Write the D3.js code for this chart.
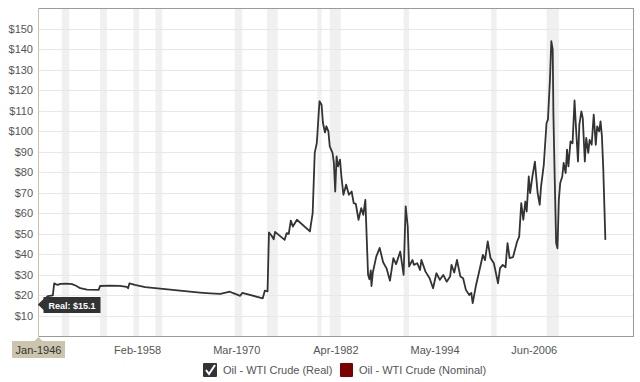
<!DOCTYPE html>
<html><head><meta charset="utf-8">
<script src="https://cdn.jsdelivr.net/npm/d3@7"></script>
<style>
html,body{margin:0;padding:0;background:#fff;}
svg{display:block;font-family:Arial,"Liberation Sans",sans-serif;}
</style></head>
<body><svg id="c" width="640" height="382"></svg>
<script>
// ---- data ----
const dates = ["1946-01","1946-07","1947-03","1947-10","1947-12","1948-05","1948-09","1949-06","1950-02","1950-08","1951-02","1951-12","1953-05","1953-07","1954-10","1955-12","1956-10","1956-12","1957-02","1957-10","1959-01","1960-11","1963-04","1965-09","1966-12","1968-03","1969-05","1969-09","1970-08","1970-11","1973-05","1973-08","1973-12","1974-02","1974-06","1974-09","1974-11","1976-01","1976-04","1976-07","1976-10","1977-01","1977-07","1979-02","1979-03","1979-06","1979-09","1979-12","1980-01","1980-03","1980-04","1980-07","1980-09","1980-12","1981-02","1981-05","1981-07","1981-11","1982-01","1982-03","1982-05","1982-07","1982-10","1982-12","1983-03","1983-07","1983-11","1984-03","1984-06","1984-09","1985-01","1985-05","1985-08","1985-11","1986-03","1986-05","1986-07","1986-08","1986-10","1987-03","1987-08","1988-01","1988-06","1988-11","1989-04","1989-08","1990-02","1990-07","1990-10","1991-01","1991-03","1991-08","1991-10","1992-03","1992-07","1992-09","1993-03","1993-09","1994-02","1994-07","1994-12","1995-05","1995-10","1996-03","1996-05","1996-09","1997-01","1997-06","1997-10","1998-02","1998-07","1998-10","1998-12","1999-05","1999-10","2000-03","2000-06","2000-10","2001-02","2001-07","2001-11","2002-01","2002-04","2002-08","2002-12","2003-03","2003-06","2003-11","2004-05","2004-08","2004-11","2005-02","2005-05","2005-07","2005-10","2005-12","2006-03","2006-07","2006-11","2007-02","2007-04","2007-08","2007-12","2008-02","2008-05","2008-07","2008-09","2008-10","2008-12","2009-02","2009-04","2009-06","2009-08","2009-11","2010-01","2010-04","2010-06","2010-08","2010-11","2011-02","2011-05","2011-07","2011-10","2011-12","2012-03","2012-05","2012-08","2012-10","2013-01","2013-03","2013-06","2013-09","2013-12","2014-02","2014-05","2014-07","2014-09","2014-11","2015-02"];
const realPrice = [15.1,17,19.5,19.8,25.7,24.9,25.4,25.5,25.3,24.5,23.3,22.6,22.5,24.4,24.6,24.5,24.0,23.3,25.7,24.9,23.8,23.1,22.1,21.2,20.8,20.5,21.6,21.0,19.6,21.0,18.4,22.1,21.8,50.5,48.9,47.2,50.8,46.9,50.2,49.8,56.3,53.4,56.7,51.0,53.4,59.9,89.3,94.1,99.0,109.6,114.5,112.8,103.9,99.3,102.3,99.8,92.5,89.3,84.4,70.5,87.6,82.7,86.0,77.8,68.9,73.8,68.9,70.5,64.8,64.5,56.7,62.4,59.1,66.4,30.0,27.7,32.0,24.4,31.0,38.7,43.0,36.0,33.0,27.0,38.0,35.0,41.2,29.8,63.2,53.4,33.9,37.1,34.7,35.5,32.2,37.1,31.4,28.2,23.3,30.6,27.4,29.8,26.5,29.0,34.7,31.0,37.1,29.0,28.2,22.5,20.0,21.0,16.0,24.9,32.2,39.6,37.0,46.1,38.0,35.5,29.0,25.7,33.1,34.7,33.5,45.3,38.0,38.5,46.1,48.5,64.8,56.7,65.6,60.7,77.8,69.7,77.0,85.1,69.7,64.0,72.9,83.5,103.9,105.5,125.0,143.8,139.7,108.8,76.2,45.3,42.8,66.4,74.6,77.8,84.4,79.5,90.9,82.7,94.9,94.0,114.9,102.3,85.1,103.1,109.6,106.3,85.1,96.6,89.3,95.7,93.3,108.0,93.3,102.3,99.8,104.7,97.4,81.1,46.9];
const recessionStart = ["1948-11","1953-07","1957-08","1960-04","1969-12","1973-11","1980-01","1981-07","1990-07","2001-03","2007-12"];
const recessionEnd   = ["1949-10","1954-05","1958-04","1961-02","1970-11","1975-03","1980-07","1982-11","1991-03","2001-11","2009-06"];
const xTickDates = ["1946-01","1958-02","1970-03","1982-04","1994-05","2006-06"];
const yTicks = [10,20,30,40,50,60,70,80,90,100,110,120,130,140,150];
const seriesNames = ["Oil - WTI Crude (Real)","Oil - WTI Crude (Nominal)"];
const tooltipLabel = "Real: $15.1";

// ---- drawing ----
const parse = d3.timeParse("%Y-%m");
const fmt = d3.timeFormat("%b-%Y");
const L = 38.5, R = 633, T = 8, B = 336;
const svg = d3.select("#c");
const x = d3.scaleTime().domain([parse("1946-01"), new Date(2018,5,15)]).range([L, R]);
const y = d3.scaleLinear().domain([0,160]).range([B, T]);

// recession bands
svg.append("g").selectAll("rect").data(recessionStart).join("rect")
  .attr("x", d => x(parse(d)))
  .attr("width", (d,i) => x(parse(recessionEnd[i])) - x(parse(d)))
  .attr("y", T).attr("height", B - T)
  .attr("fill", "#f0f0f0");

// gridlines
svg.append("g").selectAll("line").data(yTicks).join("line")
  .attr("x1", L).attr("x2", R)
  .attr("y1", d => Math.round(y(d)) + 0.5).attr("y2", d => Math.round(y(d)) + 0.5)
  .attr("stroke", "#e8e8e8").attr("stroke-width", 1);

// frame
svg.append("line").attr("x1", L).attr("x2", R).attr("y1", T + 0.5).attr("y2", T + 0.5).attr("stroke", "#9a9a9a");
svg.append("line").attr("x1", R + 0.5).attr("x2", R + 0.5).attr("y1", T).attr("y2", B).attr("stroke", "#9a9a9a");
svg.append("line").attr("x1", L).attr("x2", R + 1).attr("y1", B + 0.5).attr("y2", B + 0.5).attr("stroke", "#9a9a9a");
svg.append("line").attr("x1", L).attr("x2", L).attr("y1", T).attr("y2", B + 1).attr("stroke", "#c8c2a8").attr("stroke-width", 1);

// y labels
svg.append("g").selectAll("text").data(yTicks).join("text")
  .attr("x", 33).attr("y", d => y(d) + 4)
  .attr("text-anchor", "end").attr("font-size", 11).attr("fill", "#555")
  .text(d => "$" + d);

// line
const data = dates.map((d,i) => ({date: parse(d), v: realPrice[i]}));
svg.append("path").datum(data)
  .attr("d", d3.line().x(d => x(d.date)).y(d => y(d.v)))
  .attr("fill", "none").attr("stroke", "#333").attr("stroke-width", 1.8)
  .attr("stroke-linejoin", "round");

// x labels
xTickDates.forEach((d,i) => {
  const px = x(parse(d));
  if (i === 0) {
    svg.append("rect").attr("x", 12).attr("y", 341).attr("width", 53).attr("height", 17).attr("fill", "#cbc5ae");
    svg.append("path").attr("d", `M${px-4},341 L${px},337 L${px+4},341 Z`).attr("fill", "#cbc5ae");
  }
  svg.append("text").attr("x", px).attr("y", 354)
    .attr("text-anchor", "middle").attr("font-size", 11).attr("fill", i === 0 ? "#333" : "#555")
    .text(fmt(parse(d)));
});

// tooltip
const tx = x(data[0].date), ty = y(data[0].v);
svg.append("path")
  .attr("d", `M${tx},${ty} L${tx+5},${ty-5} L${tx+5},${ty-8} L${tx+62},${ty-8} L${tx+62},${ty+8} L${tx+5},${ty+8} L${tx+5},${ty+5} Z`)
  .attr("fill", "#333");
svg.append("text").attr("x", tx + 33.5).attr("y", ty + 3.5).attr("text-anchor", "middle")
  .attr("font-size", 9).attr("font-weight", "bold").attr("fill", "#fff").text(tooltipLabel);

// legend
const lg = svg.append("g");
lg.append("rect").attr("x", 203).attr("y", 363).attr("width", 14).attr("height", 14).attr("rx", 1).attr("fill", "#333");
lg.append("path").attr("d", "M206,370 L209,374 L215,365").attr("fill", "none").attr("stroke", "#fff").attr("stroke-width", 2);
lg.append("text").attr("x", 223).attr("y", 374).attr("font-size", 11).attr("fill", "#555").text(seriesNames[0]);
lg.append("rect").attr("x", 340).attr("y", 363).attr("width", 13).attr("height", 14).attr("rx", 1).attr("fill", "#7b0000");
lg.append("text").attr("x", 359).attr("y", 374).attr("font-size", 11).attr("fill", "#555").text(seriesNames[1]);
</script></body></html>
